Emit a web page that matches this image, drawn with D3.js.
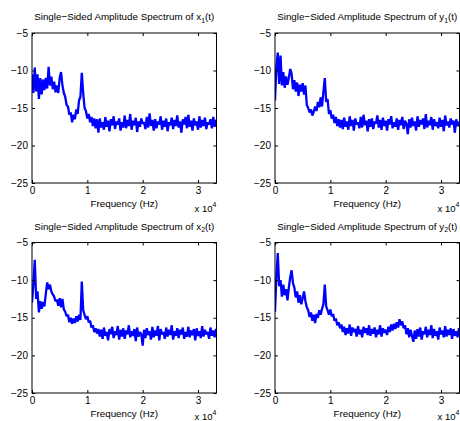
<!DOCTYPE html>
<html>
<head>
<meta charset="utf-8">
<script src="https://cdn.jsdelivr.net/npm/d3@7"></script>
<style>
  body { margin: 0; background: #fff; }
  svg { display: block; }
  text { font-family: "Liberation Sans", Arial, Helvetica, sans-serif; }
</style>
</head>
<body>
<svg id="fig" width="460" height="421"></svg>
<script>
// FFT bin spacing (Hz) and plotted range
var binHz = 250;
var freqMax = 33340;
var xTicks = [0, 10000, 20000, 30000];
var yTicks = [-5, -10, -15, -20, -25];

// single-sided spectrum, log amplitude, one value per bin
var specX1 = [
  -10.5,-13.0,-9.6,-12.8,-10.5,-13.8,-11.0,-13.2,-11.2,-12.6,
  -11.0,-12.4,-9.5,-12.0,-10.8,-12.5,-11.5,-12.9,-12.0,-13.0,
  -11.0,-10.2,-12.0,-13.0,-13.5,-14.6,-14.8,-15.9,-15.6,-16.9,
  -15.9,-16.5,-15.2,-15.8,-14.0,-13.5,-10.3,-13.0,-15.0,-15.4,
  -16.4,-15.8,-16.9,-16.2,-17.4,-16.4,-17.7,-16.5,-18.3,
  -16.4,-17.6,-16.9,-17.9,-16.2,-17.5,-16.7,-18.1,-16.5,-17.3,
  -16.1,-17.8,-16.8,-17.2,-16.4,-18.0,-16.9,-17.6,-16.0,-17.7,
  -16.6,-17.4,-15.8,-17.9,-16.7,-17.3,-16.3,-18.2,-16.8,-17.5,
  -16.4,-17.1,-16.9,-17.8,-16.2,-17.6,-15.7,-17.4,-16.6,-18.0,
  -16.5,-17.7,-16.8,-17.2,-16.1,-17.9,-16.7,-17.5,-16.4,-18.1,
  -16.9,-17.3,-16.3,-17.8,-16.6,-17.4,-16.0,-17.6,-16.8,-18.3,
  -16.5,-17.2,-16.2,-17.7,-15.9,-17.5,-16.7,-18.0,-16.4,-17.3,
  -16.8,-17.9,-16.1,-17.6,-16.6,-17.4,-16.3,-17.8,-16.9,-17.2,
  -16.5,-17.7,-16.2,-17.5,-16.6,-17.0
];
var specY1 = [
  -14.0,-9.5,-7.6,-11.8,-8.0,-12.0,-10.2,-12.3,-10.8,-11.9,
  -11.0,-9.8,-10.4,-12.5,-11.3,-12.8,-11.6,-13.4,-11.9,-12.8,
  -11.7,-13.2,-12.0,-14.6,-15.0,-15.6,-15.2,-16.0,-15.5,-14.8,
  -15.4,-14.2,-14.9,-13.6,-14.8,-12.8,-11.0,-14.2,-13.8,-15.8,
  -15.3,-16.4,-15.9,-17.0,-16.2,-17.4,-16.5,-17.6,-16.6,
  -17.8,-16.3,-17.5,-16.8,-17.9,-16.1,-17.4,-16.6,-18.0,-16.4,
  -17.2,-16.9,-17.7,-16.2,-17.6,-15.9,-17.3,-16.7,-18.1,-16.5,
  -17.5,-16.4,-17.8,-16.8,-17.1,-16.0,-17.6,-16.6,-17.9,-16.3,
  -17.4,-16.7,-18.0,-16.5,-17.2,-16.1,-17.7,-16.9,-17.5,-16.4,
  -17.9,-16.6,-17.3,-16.2,-17.8,-16.7,-17.1,-18.5,-16.5,-17.6,
  -16.3,-17.4,-16.8,-18.0,-16.1,-17.5,-16.6,-17.2,-16.4,-17.8,
  -15.8,-17.6,-16.7,-17.3,-16.2,-17.9,-16.5,-17.4,-16.9,-17.7,
  -16.3,-17.5,-16.6,-18.1,-16.0,-17.3,-16.8,-17.6,-16.4,-17.2,
  -16.7,-18.3,-16.5,-17.4,-16.9,-17.0
];
var specX2 = [
  -13.0,-10.5,-7.3,-12.5,-11.5,-14.3,-12.8,-13.8,-12.9,-13.5,
  -11.8,-10.3,-11.2,-10.6,-11.5,-11.9,-12.2,-12.8,-12.6,-13.4,
  -12.4,-13.6,-12.5,-13.9,-14.2,-14.8,-14.6,-15.6,-15.0,-15.8,
  -15.1,-15.7,-14.8,-15.5,-14.6,-15.3,-10.2,-14.0,-14.6,-15.2,
  -14.8,-15.6,-15.4,-16.3,-16.0,-16.9,-16.4,-17.1,-16.5,
  -17.5,-16.6,-17.8,-16.3,-17.4,-16.9,-18.0,-16.5,-17.2,-16.2,
  -17.7,-16.8,-17.3,-16.1,-17.9,-16.6,-17.5,-16.4,-17.8,-16.7,
  -17.2,-16.0,-17.6,-16.8,-17.4,-16.5,-18.1,-16.3,-17.5,-16.9,
  -17.2,-18.7,-16.6,-17.7,-16.4,-17.3,-16.8,-17.9,-16.2,-17.6,
  -16.7,-17.4,-16.1,-18.0,-16.5,-17.2,-16.9,-17.8,-16.3,-17.5,
  -16.6,-17.3,-16.0,-17.9,-16.8,-17.4,-16.4,-17.7,-16.6,-17.2,
  -16.3,-17.8,-16.9,-17.5,-16.2,-17.6,-16.7,-17.3,-16.5,-18.0,
  -16.4,-17.4,-16.8,-17.7,-16.1,-17.5,-16.6,-17.2,-16.9,-17.8,
  -16.3,-17.4,-16.7,-17.6,-16.5,-17.1
];
var specY2 = [
  -14.2,-9.5,-6.4,-10.8,-10.0,-12.2,-10.6,-12.0,-11.2,-12.7,
  -11.0,-9.6,-8.7,-10.4,-11.0,-12.3,-11.5,-13.0,-12.0,-13.2,
  -12.4,-11.5,-12.8,-13.6,-14.0,-14.9,-14.3,-15.4,-14.6,-15.7,
  -14.5,-15.0,-14.0,-14.6,-13.8,-13.2,-10.6,-13.5,-14.0,-14.6,
  -13.9,-14.8,-14.5,-15.4,-15.1,-16.0,-15.6,-16.4,-15.9,
  -16.9,-16.2,-17.3,-16.4,-17.1,-15.9,-17.4,-16.3,-16.9,-16.5,
  -17.5,-16.1,-17.2,-16.6,-17.6,-16.2,-17.0,-16.4,-17.3,-16.0,
  -17.4,-16.5,-17.1,-16.3,-17.6,-16.6,-17.2,-16.0,-17.5,-16.4,
  -17.0,-16.6,-17.3,-16.2,-16.9,-15.9,-16.7,-15.8,-16.5,-15.6,
  -16.3,-15.2,-16.0,-15.5,-16.4,-16.0,-17.2,-16.4,-17.6,-16.6,
  -17.4,-18.2,-16.7,-17.8,-16.5,-17.5,-16.3,-17.9,-16.8,-17.2,
  -16.2,-17.6,-16.6,-17.3,-16.0,-17.7,-16.5,-17.4,-16.8,-17.9,
  -16.3,-17.2,-16.7,-17.6,-16.1,-17.5,-16.6,-17.3,-16.4,-17.8,
  -16.5,-17.4,-16.8,-17.6,-16.4,-17.0
];

var panels = [
  { name: "x", sub: "1", data: specX1, x0: 32,  x1: 216.5, y0: 33,    y1: 183 },
  { name: "y", sub: "1", data: specY1, x0: 275, x1: 459.5, y0: 33,    y1: 183 },
  { name: "x", sub: "2", data: specX2, x0: 32,  x1: 216.5, y0: 242.5, y1: 393 },
  { name: "y", sub: "2", data: specY2, x0: 275, x1: 459.5, y0: 242.5, y1: 393 }
];

var svg = d3.select("#fig");
var fmtY = function(d){ return d < 0 ? "\u2212" + Math.abs(d) : d; };
var fmtX = function(d){ return d / 10000; };

panels.forEach(function(p, k){
  var x = d3.scaleLinear().domain([0, freqMax]).range([p.x0, p.x1]);
  var y = d3.scaleLinear().domain([-25, -5]).range([p.y1, p.y0]);
  var g = svg.append("g");

  g.append("clipPath").attr("id", "clip" + k)
    .append("rect").attr("x", p.x0).attr("y", p.y0)
    .attr("width", p.x1 - p.x0).attr("height", p.y1 - p.y0);

  var line = d3.line()
    .x(function(d, i){ return x(i * binHz); })
    .y(function(d){ return y(d); });

  g.append("path").datum(p.data)
    .attr("clip-path", "url(#clip" + k + ")")
    .attr("fill", "none").attr("stroke", "#0000ff")
    .attr("stroke-width", 2.3).attr("stroke-linejoin", "bevel")
    .attr("d", line);

  // MATLAB style box with inward ticks on all four sides
  var ax = [
    { a: d3.axisBottom(x).tickValues(xTicks).tickFormat(fmtX), t: "translate(0," + p.y1 + ")" },
    { a: d3.axisTop(x).tickValues(xTicks).tickFormat(""), t: "translate(0," + p.y0 + ")" },
    { a: d3.axisLeft(y).tickValues(yTicks).tickFormat(fmtY), t: "translate(" + p.x0 + ",0)" },
    { a: d3.axisRight(y).tickValues(yTicks).tickFormat(""), t: "translate(" + p.x1 + ",0)" }
  ];
  ax.forEach(function(o){
    var s = g.append("g").attr("transform", o.t)
      .call(o.a.tickSizeInner(-3).tickSizeOuter(0).tickPadding(4));
    s.select(".domain").remove();
    s.selectAll("line").attr("stroke", "#000");
    s.selectAll("text").attr("font-size", 10).attr("fill", "#000")
      .style("font-family", "'Liberation Sans', Arial, sans-serif");
  });

  g.append("rect").attr("x", p.x0).attr("y", p.y0)
    .attr("width", p.x1 - p.x0).attr("height", p.y1 - p.y0)
    .attr("fill", "none").attr("stroke", "#000").attr("stroke-width", 1);

  var cx = (p.x0 + p.x1) / 2;
  var title = g.append("text").attr("x", cx).attr("y", p.y0 - 13)
    .attr("text-anchor", "middle").attr("font-size", 9.8);
  title.append("tspan").text("Single\u2212Sided Amplitude Spectrum of " + p.name);
  title.append("tspan").attr("font-size", 7).attr("dy", 2.5).text(p.sub);
  title.append("tspan").attr("dy", -2.5).text("(t)");

  g.append("text").attr("x", cx).attr("y", p.y1 + 24)
    .attr("text-anchor", "middle").attr("font-size", 9.8).text("Frequency (Hz)");

  var mult = g.append("text").attr("x", p.x1 - 22).attr("y", Math.min(p.y1 + 29, 420))
    .attr("font-size", 9.5);
  mult.append("tspan").text("x 10");
  mult.append("tspan").attr("font-size", 7).attr("dy", -5).text("4");
});
</script>
</body>
</html>
